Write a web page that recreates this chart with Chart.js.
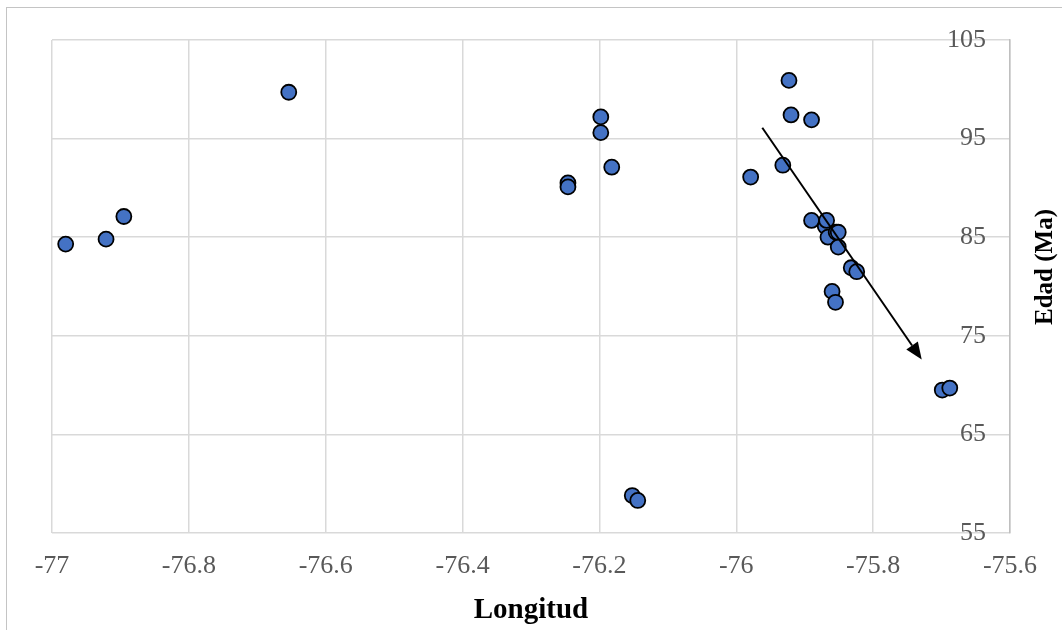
<!DOCTYPE html>
<html>
<head>
<meta charset="utf-8">
<script src="https://cdn.jsdelivr.net/npm/chart.js@4.4.1/dist/chart.umd.min.js"></script>
<style>
  html, body { margin: 0; padding: 0; background: #fff; overflow: hidden; }
  #wrap { position: relative; width: 1062px; height: 630px; }
  #frame { position: absolute; left: 6px; top: 7px; width: 1100px; height: 700px;
           border: 1.5px solid #c4c4c4; box-sizing: border-box; pointer-events: none; }
  canvas { position: absolute; left: 0; top: 0; }
</style>
</head>
<body>
<div id="wrap">
  <canvas id="chart" width="1062" height="630"></canvas>
  <div id="frame"></div>
</div>
<script>
// datos
const longitud = [-76.980, -76.921, -76.895, -76.654, -76.246, -76.246, -76.198, -76.198, -76.182,
                  -76.152, -76.144, -75.979, -75.932, -75.923, -75.920, -75.890, -75.890, -75.870,
                  -75.868, -75.866, -75.854, -75.851, -75.851, -75.832, -75.824, -75.860, -75.855,
                  -75.699, -75.688];
const edad = [84.3, 84.8, 87.1, 99.7, 90.5, 90.1, 97.2, 95.6, 92.1,
              58.8, 58.3, 91.1, 92.3, 100.9, 97.4, 96.9, 86.7, 86.1,
              86.7, 85.0, 85.5, 85.5, 84.0, 81.9, 81.5, 79.5, 78.4,
              69.5, 69.7];

const xTicks = [-77, -76.8, -76.6, -76.4, -76.2, -76, -75.8, -75.6];
const yTicks = [55, 65, 75, 85, 95, 105];

// flecha de tendencia (en unidades de datos)
const flechaInicio = [-75.962, 96.1];
const flechaFin = [-75.729, 72.6];

const serif = "'Liberation Serif', 'Times New Roman', serif";

const arrowPlugin = {
    id: 'arrow',
    afterDatasetsDraw(chart) {
        const ctx = chart.ctx;
        const x = chart.scales.x, y = chart.scales.y;
        const x1 = x.getPixelForValue(flechaInicio[0]), y1 = y.getPixelForValue(flechaInicio[1]);
        const x2 = x.getPixelForValue(flechaFin[0]), y2 = y.getPixelForValue(flechaFin[1]);
        const ang = Math.atan2(y2 - y1, x2 - x1);
        const head = 17, half = 7;
        const bx = x2 - head * Math.cos(ang), by = y2 - head * Math.sin(ang);
        ctx.save();
        ctx.strokeStyle = '#000';
        ctx.fillStyle = '#000';
        ctx.lineWidth = 2;
        ctx.beginPath();
        ctx.moveTo(x1, y1);
        ctx.lineTo(bx, by);
        ctx.stroke();
        ctx.beginPath();
        ctx.moveTo(x2, y2);
        ctx.lineTo(bx + half * Math.sin(ang), by - half * Math.cos(ang));
        ctx.lineTo(bx - half * Math.sin(ang), by + half * Math.cos(ang));
        ctx.closePath();
        ctx.fill();
        ctx.restore();
    }
};

// titulo del eje vertical, leido de abajo hacia arriba
const yTitlePlugin = {
    id: 'yTitle',
    afterDraw(chart) {
        const ctx = chart.ctx;
        ctx.save();
        ctx.translate(1046, 267);
        ctx.rotate(-Math.PI / 2);
        ctx.font = 'bold 25px ' + serif;
        ctx.fillStyle = '#000';
        ctx.textAlign = 'center';
        ctx.textBaseline = 'middle';
        ctx.fillText('Edad (Ma)', 0, 0);
        ctx.restore();
    }
};

new Chart(document.getElementById('chart'), {
    type: 'scatter',
    data: {
        datasets: [{
            data: longitud.map((v, i) => ({ x: v, y: edad[i] })),
            backgroundColor: '#4472C4',
            borderColor: '#000',
            borderWidth: 1.8,
            pointRadius: 7.5,
            pointHoverRadius: 7.5
        }]
    },
    options: {
        responsive: false,
        animation: false,
        layout: { padding: { left: 52, top: 40, right: 0, bottom: 0 } },
        plugins: { legend: { display: false }, tooltip: { enabled: false } },
        scales: {
            x: {
                type: 'linear',
                min: -77, max: -75.6,
                afterBuildTicks: s => { s.ticks = xTicks.map(v => ({ value: v })); },
                afterFit: s => { s.height = 97; },
                grid: { color: '#d9d9d9', lineWidth: 1.5, drawTicks: false },
                border: { display: false },
                ticks: {
                    padding: 18,
                    color: '#595959',
                    font: { family: serif, size: 26 },
                    callback: v => String(Number(v.toFixed(1)))
                },
                title: {
                    display: true,
                    text: 'Longitud',
                    color: '#000',
                    font: { family: serif, size: 29, weight: 'bold' },
                    padding: { top: 0, bottom: 2 }
                }
            },
            y: {
                type: 'linear',
                position: 'right',
                min: 55, max: 105,
                afterBuildTicks: s => { s.ticks = yTicks.map(v => ({ value: v })); },
                afterFit: s => { s.width = 52; },
                grid: { color: '#d9d9d9', lineWidth: 1.5, drawTicks: false },
                border: { display: true, color: '#bfbfbf', width: 1.5 },
                ticks: {
                    mirror: true,
                    padding: -24,
                    color: '#595959',
                    font: { family: serif, size: 26 }
                }
            }
        }
    },
    plugins: [arrowPlugin, yTitlePlugin]
});
</script>
</body>
</html>
